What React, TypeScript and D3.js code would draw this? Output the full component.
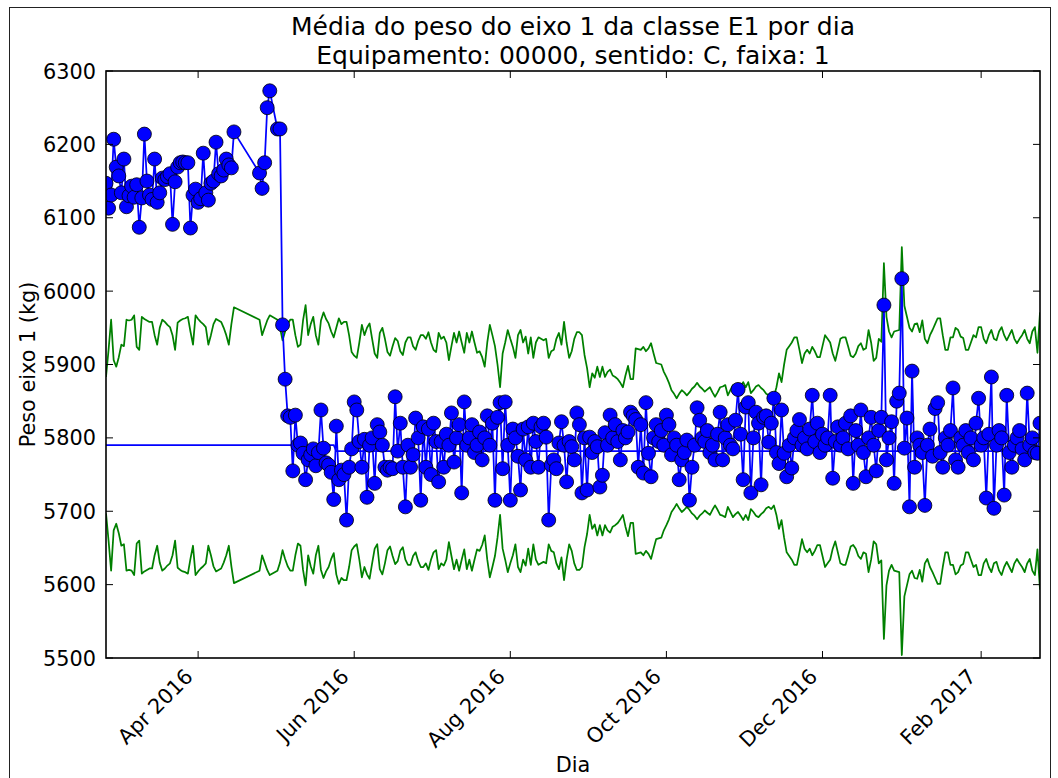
import React from "react";
import * as d3 from "d3";

// ---------- DATA ----------
const startDate = "2016-02-25"; // day index 0
const endDate = "2017-02-24"; // day index 365

// daily mean weight of axle 1 (kg), one entry per day from startDate; null = no data
const weights: (number | null)[] = [
  6147, 6113, 6131, 6207, 6169, 6157, 6134, 6180, 6115, 6130,
  6143, 6128, 6145, 6087, 6127, 6214, 6150, 6131, 6125, 6180,
  6121, 6134, 6154, 6152, 6156, 6160, 6091, 6149, 6169, 6175,
  6176, 6175, 6175, 6086, 6131, 6139, 6121, 6126, 6188, 6134,
  6124, 6147, 6150, 6203, 6160, 6157, 6165, 6180, 6172, 6168,
  6217, null, null, null, null, null, null, null, null, null,
  6161, 6140, 6175, 6250, 6273, null, null, 6221, 6221, 5954,
  5880, 5830, 5828, 5755, 5831, 5790, 5793, 5779, 5743, 5770,
  5777, 5785, 5762, 5780, 5838, 5786, 5766, 5763, 5753, 5716,
  5816, 5743, 5756, 5750, 5688, 5760, 5785, 5849, 5838, 5795,
  5760, 5798, 5719, 5790, 5800, 5738, 5818, 5808, 5790, 5760,
  5756, 5760, 5758, 5856, 5782, 5820, 5760, 5706, 5790, 5760,
  5777, 5827, 5800, 5715, 5815, 5760, 5812, 5750, 5820, 5795,
  5740, 5795, 5760, 5805, 5790, 5834, 5767, 5800, 5818, 5725,
  5849, 5790, 5800, 5818, 5780, 5790, 5808, 5770, 5800, 5830,
  5790, 5820, 5715, 5828, 5848, 5758, 5849, 5790, 5715, 5812,
  5800, 5775, 5729, 5812, 5770, 5815, 5760, 5820, 5795, 5760,
  5815, 5820, 5801, 5688, 5763, 5770, 5758, 5793, 5822, 5790,
  5740, 5795, 5788, 5770, 5834, 5818, 5725, 5800, 5729, 5801,
  5780, 5795, 5788, 5733, 5749, 5807, 5790, 5831, 5800, 5818,
  5795, 5770, 5810, 5800, 5808, 5835, 5830, 5825, 5760, 5818,
  5752, 5848, 5779, 5747, 5800, 5818, 5795, 5810, 5790, 5831,
  5818, 5777, 5800, 5790, 5743, 5770, 5780, 5797, 5715, 5760,
  5790, 5841, 5824, 5800, 5795, 5810, 5780, 5790, 5770, 5805,
  5835, 5770, 5800, 5818, 5790, 5785, 5824, 5866, 5805, 5743,
  5842, 5848, 5725, 5800, 5835, 5820, 5736, 5828, 5830, 5794,
  5820, 5854, 5780, 5765, 5838, 5779, 5747, 5790, 5759, 5800,
  5810, 5825, 5790, 5800, 5785, 5812, 5858, 5795, 5820, 5780,
  5805, 5790, 5800, 5858, 5745, 5795, 5815, 5790, 5800, 5820,
  5785, 5830, 5738, 5810, 5790, 5838, 5780, 5747, 5800, 5828,
  5790, 5755, 5810, 5828, 5981, 5770, 5800, 5822, 5738, 5850,
  5861, 6017, 5786, 5827, 5706, 5891, 5760, 5800, 5790, 5780,
  5708, 5790, 5812, 5775, 5840, 5848, 5780, 5760, 5800, 5790,
  5810, 5868, 5770, 5760, 5800, 5790, 5810, 5780, 5800, 5770,
  5820, 5854, 5790, 5800, 5718, 5805, 5883, 5704, 5790, 5810,
  5800, 5722, 5858, 5780, 5760, 5790, 5800, 5810, 5785, 5770,
  5861, 5790, 5800, 5780, 5779, 5820,
];

// half-width of the green control band (kg) per day
const bandWidth: (number | null)[] = [
  93, 130, 171, 116, 107, 120, 137, 135, 171, 170,
  171, 177, 134, 130, 175, 172, 170, 168, 168, 150,
  137, 160, 171, 168, 164, 161, 150, 130, 167, 170,
  172, 173, 175, 155, 137, 177, 172, 168, 165, 161,
  137, 150, 165, 172, 170, 168, 160, 150, 137, 165,
  188, null, null, null, null, null, null, null, null, null,
  171, 150, 160, 170, 177, null, null, 171, 160, 143,
  155, 165, 171, 171, 150, 134, 137, 170, 191, 150,
  165, 175, 150, 137, 170, 181, 172, 166, 155, 147,
  168, 181, 173, 176, 176, 158, 135, 130, 127, 148,
  172, 158, 168, 174, 153, 133, 127, 161, 168, 153,
  135, 130, 143, 154, 150, 136, 131, 148, 155, 155,
  143, 138, 150, 158, 158, 153, 162, 148, 138, 135,
  161, 153, 156, 148, 124, 143, 161, 148, 163, 148,
  134, 161, 148, 163, 148, 134, 136, 128, 115, 148,
  172, 158, 143, 118, 87, 133, 148, 165, 153, 142,
  127, 158, 165, 148, 156, 133, 155, 127, 148, 155,
  153, 151, 153, 127, 136, 138, 153, 161, 145, 176,
  148, 127, 136, 153, 162, 162, 158, 131, 113, 87,
  106, 100, 115, 101, 115, 101, 108, 111, 103, 101,
  98, 93, 87, 103, 116, 98, 98, 140, 139, 138,
  142, 136, 140, 147, 133, 120, 119, 118, 108, 101,
  93, 83, 78, 72, 78, 83, 80, 76, 80, 85,
  88, 93, 88, 85, 81, 84, 87, 80, 74, 80,
  87, 88, 90, 76, 83, 90, 86, 83, 88, 94,
  87, 94, 79, 83, 88, 90, 86, 83, 78, 76,
  79, 74, 87, 106, 94, 118, 138, 143, 148, 155,
  155, 138, 120, 133, 138, 133, 142, 136, 128, 128,
  143, 158, 153, 148, 133, 123, 138, 153, 155, 155,
  143, 130, 128, 133, 143, 147, 138, 140, 165, 148,
  123, 127, 153, 149, 256, 183, 163, 155, 163, 164,
  165, 278, 198, 183, 168, 163, 173, 174, 162, 178,
  153, 147, 158, 165, 173, 181, 181, 158, 138, 138,
  155, 155, 168, 165, 156, 154, 138, 138, 148, 158,
  155, 169, 169, 153, 147, 158, 165, 153, 151, 163,
  169, 158, 151, 158, 165, 153, 147, 153, 158, 165,
  153, 147, 163, 169, 134, 189,
];

// reference (median) level: value applies from the given day index on
const centerStartDay = [0, 90];
const centerValue = [5790, 5782];

const yTicks = [5500, 5600, 5700, 5800, 5900, 6000, 6100, 6200, 6300];
const xTickDates = ["2016-04-01", "2016-06-01", "2016-08-01", "2016-10-01", "2016-12-01", "2017-02-01"];
const xTickLabels = ["Apr 2016", "Jun 2016", "Aug 2016", "Oct 2016", "Dec 2016", "Feb 2017"];

const titleLines = ["Média do peso do eixo 1 da classe E1 por dia", "Equipamento: 00000, sentido: C, faixa: 1"];
const xLabel = "Dia";
const yLabel = "Peso eixo 1 (kg)";

// ---------- CHART ----------
const parse = d3.utcParse("%Y-%m-%d");

export default function App() {
  const W = 1058;
  const H = 778;
  const L = 106, R = 1040, T = 71, B = 658;
  const font = "'DejaVu Sans', sans-serif";

  const t0 = parse(startDate) as Date;
  const t1 = parse(endDate) as Date;
  const x = d3.scaleUtc().domain([t0, t1]).range([L, R]);
  const y = d3.scaleLinear().domain([5500, 6300]).range([B, T]);

  const dayDate = (i: number) => d3.utcDay.offset(t0, i);
  const centerAt = (i: number) => {
    let v = centerValue[0];
    centerStartDay.forEach((s, k) => {
      if (i >= s) v = centerValue[k];
    });
    return v;
  };

  const pts = weights
    .map((w, i) => ({ i, w, b: bandWidth[i] }))
    .filter((d) => d.w != null) as { i: number; w: number; b: number | null }[];
  const bandPts = pts.filter((d) => d.b != null) as { i: number; w: number; b: number }[];

  const line = d3.line<[number, number]>().x((d) => d[0]).y((d) => d[1]);
  const dataPath = line(pts.map((d) => [x(dayDate(d.i)), y(d.w)]));
  const upperPath = line(bandPts.map((d) => [x(dayDate(d.i)), y(centerAt(d.i) + d.b)]));
  const lowerPath = line(bandPts.map((d) => [x(dayDate(d.i)), y(centerAt(d.i) - d.b)]));
  const centerPath = line(pts.map((d) => [x(dayDate(d.i)), y(centerAt(d.i))]));

  const tickLen = 7;

  return (
    <svg
      width={W}
      height={H}
      viewBox={`0 0 ${W} ${H}`}
      style={{ position: "absolute", left: 0, top: 0, background: "#fff" }}
      fontFamily={font}
    >
      <rect x={0} y={0} width={W} height={H} fill="#fff" />
      <rect x={9.5} y={7.5} width={1041} height={H} fill="none" stroke="#222" strokeWidth={1} />
      <defs>
        <clipPath id="plotClip">
          <rect x={L} y={T} width={R - L} height={B - T} />
        </clipPath>
      </defs>

      {/* title */}
      {titleLines.map((t, k) => (
        <text key={k} x={(L + R) / 2} y={35 + k * 29} textAnchor="middle" fontSize={25} fill="#000">
          {t}
        </text>
      ))}

      <g clipPath="url(#plotClip)">
        <path d={upperPath || ""} fill="none" stroke="#008000" strokeWidth={1.75} strokeLinejoin="round" />
        <path d={lowerPath || ""} fill="none" stroke="#008000" strokeWidth={1.75} strokeLinejoin="round" />
        <path d={centerPath || ""} fill="none" stroke="#0000ff" strokeWidth={1.75} />
        <path d={dataPath || ""} fill="none" stroke="#0000ff" strokeWidth={1.75} strokeLinejoin="round" />
        {pts.map((d) => (
          <circle
            key={d.i}
            cx={x(dayDate(d.i))}
            cy={y(d.w)}
            r={7}
            fill="#0000ff"
            stroke="#000"
            strokeWidth={0.8}
          />
        ))}
      </g>

      {/* ticks */}
      {yTicks.map((v) => (
        <g key={v}>
          <line x1={L} x2={L + tickLen} y1={y(v)} y2={y(v)} stroke="#000" strokeWidth={1} />
          <line x1={R} x2={R - tickLen} y1={y(v)} y2={y(v)} stroke="#000" strokeWidth={1} />
          <text x={96} y={y(v) + 7.5} textAnchor="end" fontSize={20.8} fill="#000">
            {v}
          </text>
        </g>
      ))}
      {xTickDates.map((ds, k) => {
        const px = x(parse(ds) as Date);
        return (
          <g key={ds}>
            <line x1={px} x2={px} y1={B} y2={B - tickLen} stroke="#000" strokeWidth={1} />
            <line x1={px} x2={px} y1={T} y2={T + tickLen} stroke="#000" strokeWidth={1} />
            <text
              transform={`translate(${px - 4},${B + 20}) rotate(-45)`}
              textAnchor="end"
              fontSize={20.8}
              fill="#000"
            >
              {xTickLabels[k]}
            </text>
          </g>
        );
      })}

      {/* frame */}
      <rect x={L} y={T} width={R - L} height={B - T} fill="none" stroke="#000" strokeWidth={1.6} />

      {/* axis labels */}
      <text x={(L + R) / 2} y={772} textAnchor="middle" fontSize={20.8} fill="#000">
        {xLabel}
      </text>
      <text transform={`translate(35,${(T + B) / 2}) rotate(-90)`} textAnchor="middle" fontSize={20.8} fill="#000">
        {yLabel}
      </text>
    </svg>
  );
}
